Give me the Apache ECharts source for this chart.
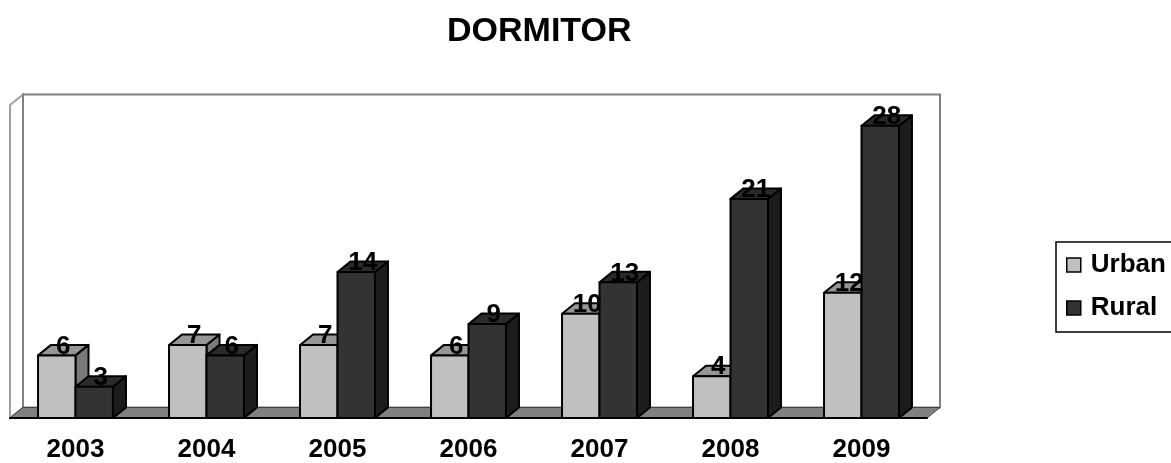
<!DOCTYPE html>
<html>
<head>
<meta charset="utf-8">
<script src="https://cdn.jsdelivr.net/npm/echarts@6/dist/echarts.min.js"></script>
<style>
  html, body { margin: 0; padding: 0; background: #fff; }
  #chart { width: 1171px; height: 463px; }
</style>
</head>
<body>
<div id="chart"></div>
<script>
const years = ["2003", "2004", "2005", "2006", "2007", "2008", "2009"];
const urban = [6, 7, 7, 6, 10, 4, 12];
const rural = [3, 6, 14, 9, 13, 21, 28];

const FONT = "'Liberation Sans', Arial, sans-serif";
// 3d depth offsets
const DX = 13;
const DY = 10.5;

const chart = echarts.init(document.getElementById("chart"));

// side = -1 for left bar of the pair, +1 for right bar
function boxRenderer(side, faces) {
  return function (params, api) {
    const idx = api.value(0);
    const val = api.value(1);
    const base = api.coord([idx, 0]);
    const top = api.coord([idx, val]);
    const band = api.size([1, 0])[0];
    const w = band * 0.286;
    const x0 = side < 0 ? base[0] - w : base[0];
    const x1 = x0 + w;
    const yT = top[1];
    const yB = base[1];
    const line = { stroke: "#000", lineWidth: 2, lineJoin: "round" };
    return {
      type: "group",
      children: [
        {
          type: "polygon",
          shape: { points: [[x1, yT], [x1 + DX, yT - DY], [x1 + DX, yB - DY], [x1, yB]] },
          style: Object.assign({ fill: faces.side }, line),
        },
        {
          type: "polygon",
          shape: { points: [[x0, yT], [x0 + DX, yT - DY], [x1 + DX, yT - DY], [x1, yT]] },
          style: Object.assign({ fill: faces.top }, line),
        },
        {
          type: "rect",
          shape: { x: x0, y: yT, width: w, height: yB - yT },
          style: Object.assign({ fill: faces.front }, line),
        },
        {
          type: "text",
          z2: 100,
          style: {
            text: String(val),
            x: (x0 + x1) / 2 + DX / 2,
            y: yT - 9,
            align: "center",
            verticalAlign: "middle",
            fill: "#000",
            font: "bold 26px " + FONT,
          },
        },
      ],
    };
  };
}

function wallsRenderer(params, api) {
  const cs = params.coordSys;
  const x = cs.x, y = cs.y, w = cs.width, h = cs.height;
  return {
    type: "group",
    children: [
      {
        type: "polygon",
        shape: { points: [[x, y], [x + DX, y - DY], [x + DX, y + h - DY], [x, y + h]] },
        style: { fill: "#fff", stroke: "#a0a0a0", lineWidth: 2 },
      },
      {
        type: "rect",
        shape: { x: x + DX, y: y - DY, width: w, height: h },
        style: { fill: "#fff", stroke: "#808080", lineWidth: 2 },
      },
      {
        type: "polygon",
        shape: { points: [[x, y + h], [x + DX, y + h - DY], [x + w + DX, y + h - DY], [x + w, y + h]] },
        style: { fill: "#808080", stroke: "#404040", lineWidth: 1 },
      },
    ],
  };
}

const option = {
  animation: false,
  title: {
    text: "DORMITOR",
    left: 447,
    top: 15,
    padding: 0,
    textStyle: { fontFamily: FONT, fontWeight: "bold", fontSize: 34, color: "#000" },
  },
  legend: {
    data: ["Urban", "Rural"],
    orient: "vertical",
    left: 1056,
    top: 242,
    padding: [10, 30, 11, 10],
    itemGap: 17,
    itemWidth: 14,
    itemHeight: 14,
    icon: "rect",
    borderColor: "#000",
    borderWidth: 1.5,
    borderRadius: 0,
    itemStyle: { borderColor: "#000", borderWidth: 1.5 },
    textStyle: {
      fontFamily: FONT,
      fontWeight: "bold",
      fontSize: 26,
      lineHeight: 26,
      color: "#000",
      padding: [0, 0, 0, 5],
    },
  },
  grid: { left: 10, right: 244, top: 105, bottom: 44 },
  xAxis: {
    type: "category",
    data: years,
    z: 10,
    axisLine: { lineStyle: { color: "#000", width: 2 } },
    axisTick: { length: 6, lineStyle: { color: "#000", width: 1.5 } },
    axisLabel: {
      margin: 19,
      fontFamily: FONT,
      fontWeight: "bold",
      fontSize: 26,
      color: "#000",
    },
    splitLine: { show: false },
  },
  yAxis: {
    type: "value",
    min: 0,
    max: 30,
    show: false,
    splitLine: { show: false },
  },
  series: [
    {
      name: "walls",
      type: "custom",
      z: 1,
      silent: true,
      renderItem: wallsRenderer,
      data: [[0, 0]],
      encode: { x: 0, y: 1 },
    },
    {
      name: "Urban",
      type: "custom",
      itemStyle: { color: "#c0c0c0" },
      renderItem: boxRenderer(-1, { front: "#c0c0c0", top: "#969696", side: "#7a7a7a" }),
      data: urban.map((v, i) => [i, v]),
      encode: { x: 0, y: 1 },
    },
    {
      name: "Rural",
      type: "custom",
      itemStyle: { color: "#333333" },
      renderItem: boxRenderer(1, { front: "#333333", top: "#2a2a2a", side: "#1c1c1c" }),
      data: rural.map((v, i) => [i, v]),
      encode: { x: 0, y: 1 },
    },
  ],
};

chart.setOption(option);
</script>
</body>
</html>
